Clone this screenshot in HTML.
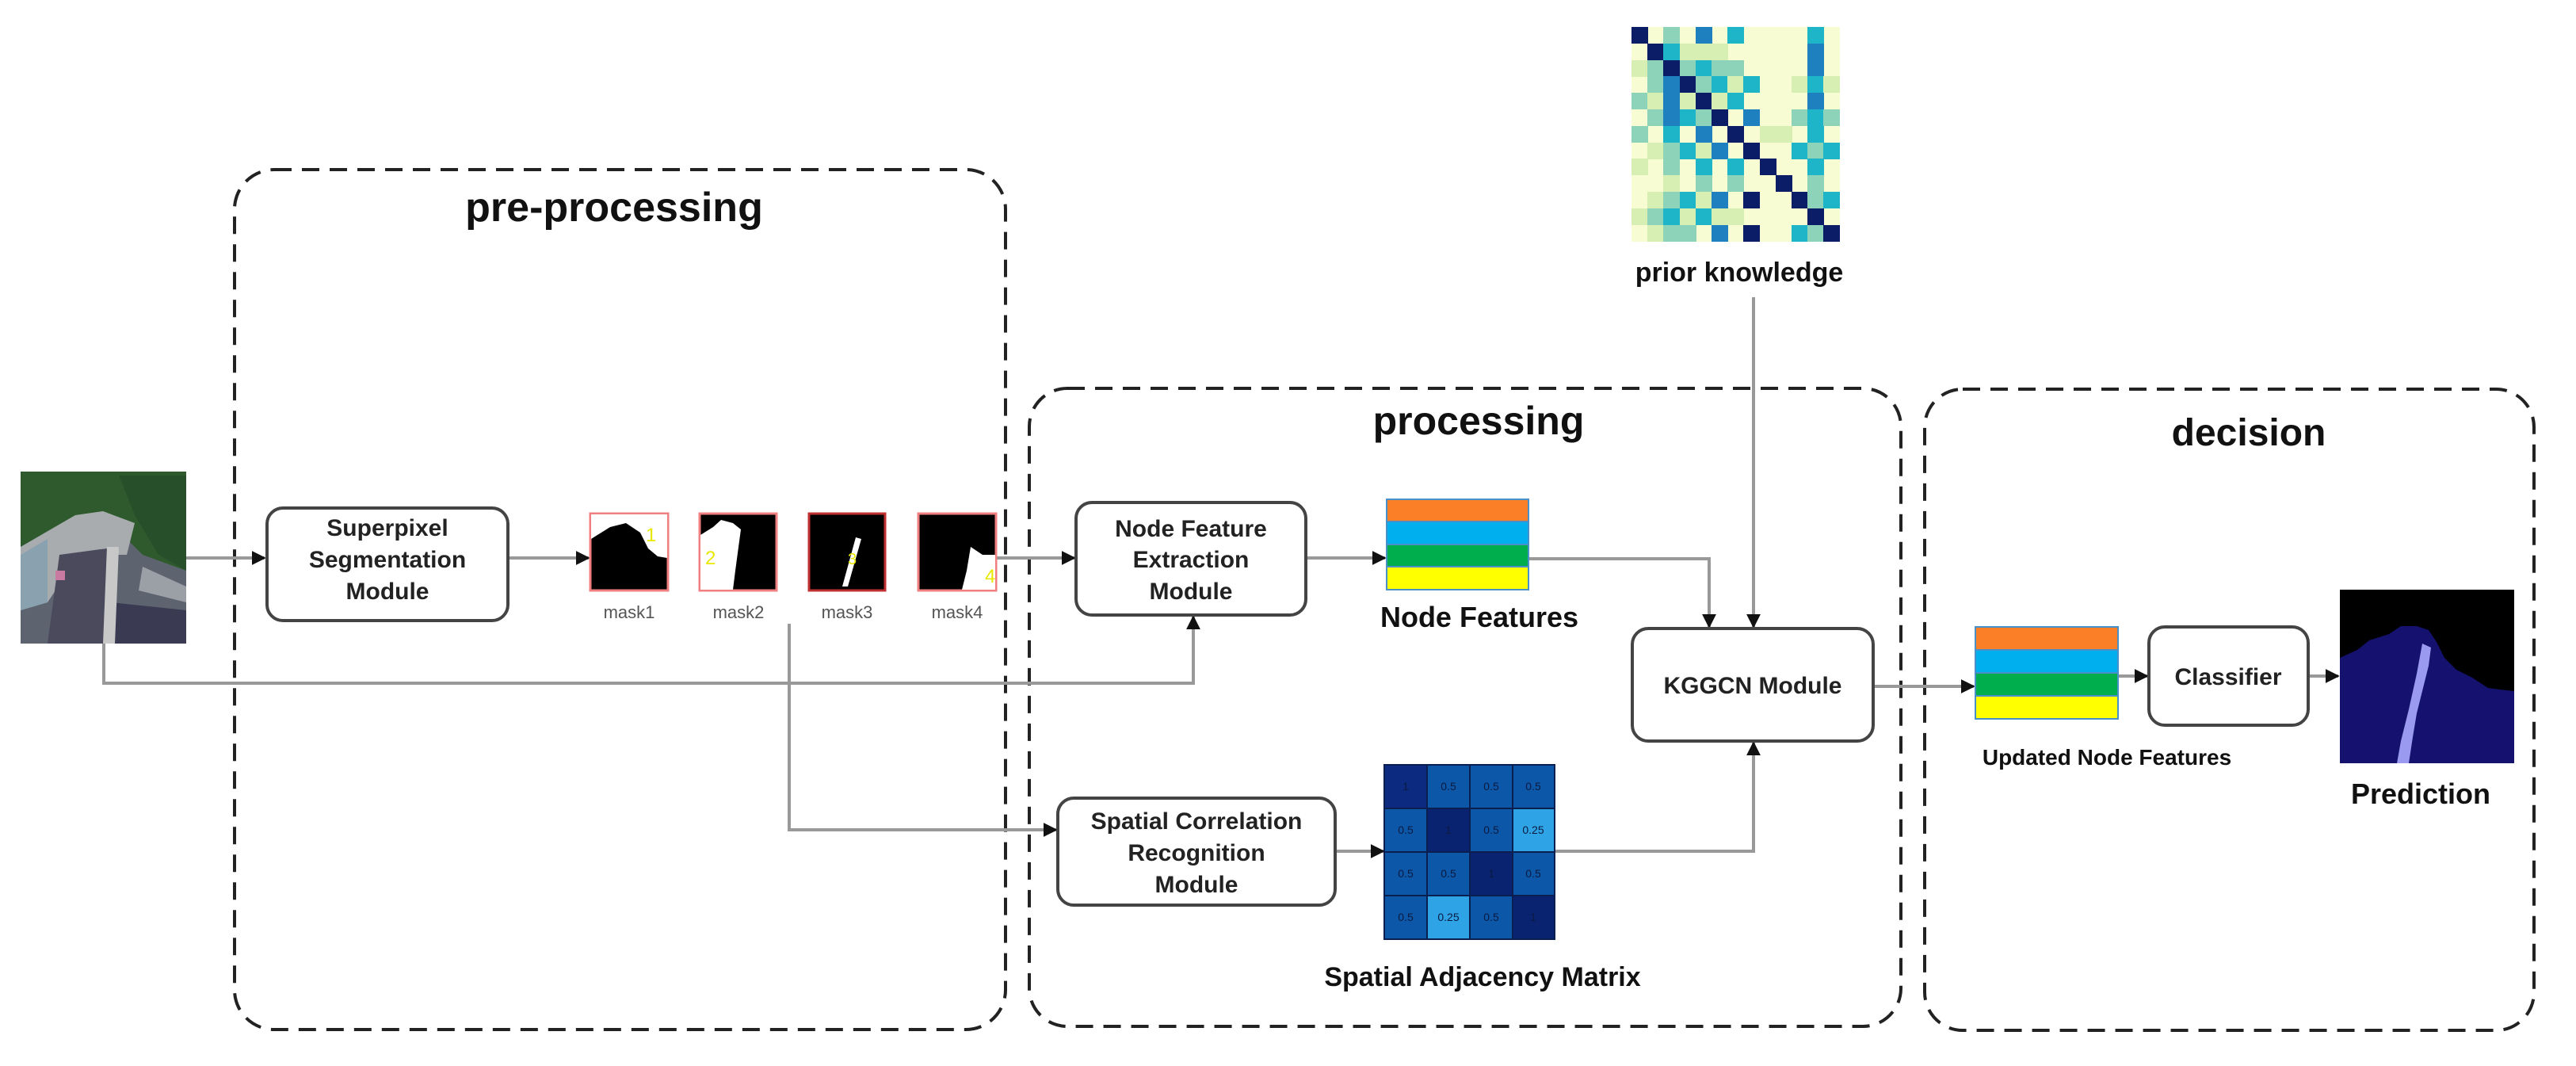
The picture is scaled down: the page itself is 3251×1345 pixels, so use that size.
<!DOCTYPE html>
<html><head><meta charset="utf-8"><style>
html,body{margin:0;padding:0;background:#fff;}
svg{display:block;}
text{font-family:"Liberation Sans",sans-serif;}
.a1{fill:#d8efb4}.a2{fill:#8dd3b9}.a3{fill:#1fb5c8}.a4{fill:#1f80c0}.a5{fill:#0c1d68}
</style></head><body>
<svg width="3251" height="1345" viewBox="0 0 3251 1345" xmlns="http://www.w3.org/2000/svg">
<defs>
<marker id="ar2" viewBox="0 0 10 10" markerWidth="18" markerHeight="18" refX="9" refY="5" orient="auto" markerUnits="userSpaceOnUse">
<path d="M0,0 L10,5 L0,10 z" fill="#111"/></marker>
</defs>

<g fill="none" stroke="#222" stroke-width="4" stroke-dasharray="22,13">
<rect x="296" y="214" width="973" height="1085" rx="50"/>
<rect x="1299" y="490" width="1100" height="805" rx="48"/>
<rect x="2429" y="491" width="769" height="809" rx="48"/>
</g>
<g font-weight="bold" fill="#111" text-anchor="middle">
<text x="775" y="279" font-size="52">pre-processing</text>
<text x="1866" y="548" font-size="50">processing</text>
<text x="2838" y="562" font-size="48">decision</text>
</g>

<g fill="none" stroke="#999" stroke-width="4">
<path d="M235,704 H334" marker-end="url(#ar2)"/>
<path d="M641,704 H743" marker-end="url(#ar2)"/>
<path d="M1257,704 H1356" marker-end="url(#ar2)"/>
<path d="M1648,704 H1748" marker-end="url(#ar2)"/>
<path d="M131,812 V862 H1506 V778" marker-end="url(#ar2)"/>
<path d="M996,787 V1047 H1333" marker-end="url(#ar2)"/>
<path d="M1685,1074 H1746" marker-end="url(#ar2)"/>
<path d="M1929,705 H2157 V791" marker-end="url(#ar2)"/>
<path d="M2213,375 V791" marker-end="url(#ar2)"/>
<path d="M1962,1074 H2213 V937" marker-end="url(#ar2)"/>
<path d="M2364,866 H2491" marker-end="url(#ar2)"/>
<path d="M2673,853 H2710" marker-end="url(#ar2)"/>
<path d="M2913,853 H2951" marker-end="url(#ar2)"/>
</g>

<g>
<rect x="26" y="595" width="209" height="217" fill="#5d6470"/>
<path d="M26,595 H235 V720 L180,700 L140,660 L100,650 L60,680 L26,690 Z" fill="#2f5a2e"/>
<path d="M150,600 L235,600 L235,720 L200,700 L170,650 Z" fill="#27502a"/>
<path d="M26,690 L95,650 L130,645 L170,660 L160,700 L100,700 L60,760 L26,770 Z" fill="#a8acaf"/>
<path d="M26,700 L60,680 L60,760 L26,770 Z" fill="#8aa2b0"/>
<path d="M75,700 L150,690 L135,812 L60,812 Z" fill="#4a4a5c"/>
<path d="M140,760 L235,770 L235,812 L140,812 Z" fill="#3a3a52"/>
<path d="M180,715 L235,740 L235,760 L175,745 Z" fill="#9aa0a6"/>
<path d="M135,690 L150,690 L145,812 L130,812 Z" fill="#c8c8c8"/>
<rect x="70" y="720" width="12" height="12" fill="#c87aa0"/>
</g>

<g fill="#fff" stroke="#444" stroke-width="4">
<rect x="337" y="641" width="304" height="142" rx="20"/>
<rect x="1358" y="634" width="290" height="142" rx="20"/>
<rect x="1335" y="1007" width="350" height="135" rx="20"/>
<rect x="2060" y="793" width="304" height="142" rx="20"/>
<rect x="2712" y="791" width="201" height="124" rx="20"/>
</g>
<g font-weight="bold" fill="#222" text-anchor="middle" font-size="30">
<text x="489" y="676">Superpixel</text>
<text x="489" y="716">Segmentation</text>
<text x="489" y="756">Module</text>
<text x="1503" y="677">Node Feature</text>
<text x="1503" y="716">Extraction</text>
<text x="1503" y="756">Module</text>
<text x="1510" y="1046">Spatial Correlation</text>
<text x="1510" y="1086">Recognition</text>
<text x="1510" y="1126">Module</text>
<text x="2212" y="875">KGGCN Module</text>
<text x="2812" y="864">Classifier</text>
</g>

<g>
<rect x="745" y="648" width="98" height="97" fill="#000" stroke="#f08080" stroke-width="3"/>
<path d="M746,649 H842 V704 L830,702 L818,692 L808,672 L790,660 L770,665 L746,680 Z" fill="#fff"/>
<text x="815" y="683" font-size="24" fill="#e8e800">1</text>
<rect x="883" y="648" width="97" height="97" fill="#000" stroke="#f08080" stroke-width="3"/>
<path d="M884,675 L900,665 L910,656 L925,660 L935,668 L928,720 L925,744 L884,744 Z" fill="#fff"/>
<text x="890" y="712" font-size="24" fill="#e8e800">2</text>
<rect x="1021" y="648" width="96" height="97" fill="#000" stroke="#c03030" stroke-width="3"/>
<path d="M1080,678 L1087,680 L1070,740 L1063,740 Z" fill="#fff"/>
<text x="1070" y="712" font-size="20" fill="#e8e800">3</text>
<rect x="1159" y="648" width="98" height="97" fill="#000" stroke="#f08080" stroke-width="3"/>
<path d="M1225,690 L1240,700 L1256,700 V744 H1214 L1220,720 Z" fill="#fff"/>
<text x="1243" y="735" font-size="24" fill="#e8e800">4</text>
</g>
<g font-size="22" fill="#555" text-anchor="middle">
<text x="794" y="780">mask1</text>
<text x="932" y="780">mask2</text>
<text x="1069" y="780">mask3</text>
<text x="1208" y="780">mask4</text>
</g>

<g stroke="#4a90c8" stroke-width="2">
<rect x="1750" y="630" width="179" height="28" fill="#fb7f26"/>
<rect x="1750" y="658" width="179" height="29" fill="#00b0ee"/>
<rect x="1750" y="687" width="179" height="28" fill="#00ae4e"/>
<rect x="1750" y="715" width="179" height="29" fill="#ffff00"/>
<rect x="2493" y="791" width="180" height="29" fill="#fb7f26"/>
<rect x="2493" y="820" width="180" height="29" fill="#00b0ee"/>
<rect x="2493" y="849" width="180" height="29" fill="#00ae4e"/>
<rect x="2493" y="878" width="180" height="29" fill="#ffff00"/>
</g>
<g font-weight="bold" fill="#111" text-anchor="middle">
<text x="1867" y="791" font-size="36">Node Features</text>
<text x="1871" y="1244" font-size="34">Spatial Adjacency Matrix</text>
<text x="2195" y="355" font-size="34">prior knowledge</text>
<text x="2659" y="965" font-size="28">Updated Node Features</text>
<text x="3055" y="1014" font-size="36">Prediction</text>
</g>

<g stroke="#0a1f50" stroke-width="2">
<rect x="1747" y="965" width="54" height="55" fill="#0b2a80"/>
<rect x="1801" y="965" width="54" height="55" fill="#0d57a8"/>
<rect x="1855" y="965" width="54" height="55" fill="#0d57a8"/>
<rect x="1909" y="965" width="53" height="55" fill="#0d57a8"/>
<rect x="1747" y="1020" width="54" height="55" fill="#0d57a8"/>
<rect x="1801" y="1020" width="54" height="55" fill="#0a2370"/>
<rect x="1855" y="1020" width="54" height="55" fill="#0d57a8"/>
<rect x="1909" y="1020" width="53" height="55" fill="#2ea4e6"/>
<rect x="1747" y="1075" width="54" height="55" fill="#0d57a8"/>
<rect x="1801" y="1075" width="54" height="55" fill="#0d57a8"/>
<rect x="1855" y="1075" width="54" height="55" fill="#0a2370"/>
<rect x="1909" y="1075" width="53" height="55" fill="#0d57a8"/>
<rect x="1747" y="1130" width="54" height="55" fill="#0d57a8"/>
<rect x="1801" y="1130" width="54" height="55" fill="#2ea4e6"/>
<rect x="1855" y="1130" width="54" height="55" fill="#0d57a8"/>
<rect x="1909" y="1130" width="53" height="55" fill="#0a2370"/>
</g>
<g font-size="14" fill="#0a1a40" text-anchor="middle">
<text x="1774" y="997">1</text><text x="1828" y="997">0.5</text><text x="1882" y="997">0.5</text><text x="1935" y="997">0.5</text>
<text x="1774" y="1052">0.5</text><text x="1828" y="1052">1</text><text x="1882" y="1052">0.5</text><text x="1935" y="1052">0.25</text>
<text x="1774" y="1107">0.5</text><text x="1828" y="1107">0.5</text><text x="1882" y="1107">1</text><text x="1935" y="1107">0.5</text>
<text x="1774" y="1162">0.5</text><text x="1828" y="1162">0.25</text><text x="1882" y="1162">0.5</text><text x="1935" y="1162">1</text>
</g>

<!-- prior knowledge heatmap -->
<rect x="2059" y="34" width="263" height="271" fill="#f7fcd2"/>
<g transform="translate(0,34)"><rect class="a5" x="2059" width="21" height="21"/><rect class="a2" x="2099" width="21" height="21"/><rect class="a4" x="2140" width="21" height="21"/><rect class="a3" x="2180" width="21" height="21"/><rect class="a3" x="2281" width="21" height="21"/></g>
<g transform="translate(0,55)"><rect class="a5" x="2079" width="21" height="21"/><rect class="a3" x="2099" width="21" height="21"/><rect class="a1" x="2120" width="21" height="21"/><rect class="a1" x="2140" width="21" height="21"/><rect class="a1" x="2160" width="21" height="21"/><rect class="a4" x="2281" width="21" height="21"/></g>
<g transform="translate(0,76)"><rect class="a1" x="2059" width="21" height="21"/><rect class="a2" x="2079" width="21" height="21"/><rect class="a5" x="2099" width="21" height="21"/><rect class="a2" x="2120" width="21" height="21"/><rect class="a3" x="2140" width="21" height="21"/><rect class="a2" x="2160" width="21" height="21"/><rect class="a2" x="2180" width="21" height="21"/><rect class="a4" x="2281" width="21" height="21"/></g>
<g transform="translate(0,96)"><rect class="a2" x="2079" width="21" height="21"/><rect class="a4" x="2099" width="21" height="21"/><rect class="a5" x="2120" width="21" height="21"/><rect class="a2" x="2140" width="21" height="21"/><rect class="a3" x="2160" width="21" height="21"/><rect class="a1" x="2180" width="21" height="21"/><rect class="a3" x="2200" width="21" height="21"/><rect class="a1" x="2261" width="21" height="21"/><rect class="a3" x="2281" width="21" height="21"/><rect class="a1" x="2301" width="21" height="21"/></g>
<g transform="translate(0,117)"><rect class="a2" x="2059" width="21" height="21"/><rect class="a1" x="2079" width="21" height="21"/><rect class="a4" x="2099" width="21" height="21"/><rect class="a1" x="2120" width="21" height="21"/><rect class="a5" x="2140" width="21" height="21"/><rect class="a1" x="2160" width="21" height="21"/><rect class="a3" x="2180" width="21" height="21"/><rect class="a4" x="2281" width="21" height="21"/></g>
<g transform="translate(0,138)"><rect class="a2" x="2079" width="21" height="21"/><rect class="a4" x="2099" width="21" height="21"/><rect class="a3" x="2120" width="21" height="21"/><rect class="a2" x="2140" width="21" height="21"/><rect class="a5" x="2160" width="21" height="21"/><rect class="a4" x="2200" width="21" height="21"/><rect class="a2" x="2261" width="21" height="21"/><rect class="a3" x="2281" width="21" height="21"/><rect class="a2" x="2301" width="21" height="21"/></g>
<g transform="translate(0,159)"><rect class="a2" x="2059" width="21" height="21"/><rect class="a3" x="2099" width="21" height="21"/><rect class="a4" x="2140" width="21" height="21"/><rect class="a5" x="2180" width="21" height="21"/><rect class="a1" x="2221" width="21" height="21"/><rect class="a1" x="2241" width="21" height="21"/><rect class="a3" x="2281" width="21" height="21"/></g>
<g transform="translate(0,180)"><rect class="a1" x="2079" width="21" height="21"/><rect class="a2" x="2099" width="21" height="21"/><rect class="a3" x="2120" width="21" height="21"/><rect class="a1" x="2140" width="21" height="21"/><rect class="a4" x="2160" width="21" height="21"/><rect class="a5" x="2200" width="21" height="21"/><rect class="a3" x="2261" width="21" height="21"/><rect class="a2" x="2281" width="21" height="21"/><rect class="a3" x="2301" width="21" height="21"/></g>
<g transform="translate(0,200)"><rect class="a1" x="2059" width="21" height="21"/><rect class="a2" x="2099" width="21" height="21"/><rect class="a3" x="2140" width="21" height="21"/><rect class="a3" x="2180" width="21" height="21"/><rect class="a5" x="2221" width="21" height="21"/><rect class="a3" x="2281" width="21" height="21"/></g>
<g transform="translate(0,221)"><rect class="a1" x="2099" width="21" height="21"/><rect class="a2" x="2140" width="21" height="21"/><rect class="a2" x="2180" width="21" height="21"/><rect class="a5" x="2241" width="21" height="21"/><rect class="a2" x="2281" width="21" height="21"/></g>
<g transform="translate(0,242)"><rect class="a1" x="2079" width="21" height="21"/><rect class="a2" x="2099" width="21" height="21"/><rect class="a3" x="2120" width="21" height="21"/><rect class="a1" x="2140" width="21" height="21"/><rect class="a4" x="2160" width="21" height="21"/><rect class="a5" x="2200" width="21" height="21"/><rect class="a5" x="2261" width="21" height="21"/><rect class="a2" x="2281" width="21" height="21"/><rect class="a3" x="2301" width="21" height="21"/></g>
<g transform="translate(0,263)"><rect class="a1" x="2059" width="21" height="21"/><rect class="a2" x="2079" width="21" height="21"/><rect class="a3" x="2099" width="21" height="21"/><rect class="a1" x="2120" width="21" height="21"/><rect class="a3" x="2140" width="21" height="21"/><rect class="a1" x="2160" width="21" height="21"/><rect class="a1" x="2180" width="21" height="21"/><rect class="a5" x="2281" width="21" height="21"/></g>
<g transform="translate(0,284)"><rect class="a1" x="2079" width="21" height="21"/><rect class="a2" x="2099" width="21" height="21"/><rect class="a2" x="2120" width="21" height="21"/><rect class="a4" x="2160" width="21" height="21"/><rect class="a5" x="2200" width="21" height="21"/><rect class="a3" x="2261" width="21" height="21"/><rect class="a2" x="2281" width="21" height="21"/><rect class="a5" x="2301" width="21" height="21"/></g>

<g>
<rect x="2953" y="744" width="220" height="219" fill="#000"/>
<path d="M2953,830 L2975,820 L2990,808 L3015,800 L3030,790 L3050,790 L3065,795 L3075,810 L3085,830 L3100,845 L3120,855 L3140,868 L3155,870 L3173,872 V963 H2953 Z" fill="#14126e"/>
<path d="M3057,812 L3068,817 L3065,840 L3050,900 L3045,930 L3040,963 L3025,963 L3030,935 L3040,895 L3050,850 Z" fill="#9a9af0"/>
</g>
</svg>
</body></html>
